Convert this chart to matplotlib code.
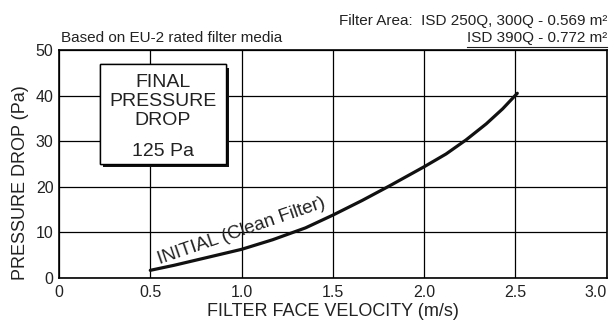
import numpy as np
import matplotlib
matplotlib.use("Agg")
import matplotlib.pyplot as plt
import matplotlib.patheffects as pe
from matplotlib.patches import Rectangle
from matplotlib.lines import Line2D

plt.rcParams['font.family'] = ['Liberation Sans', 'DejaVu Sans']

# curve
velocity = [0.5, 0.63, 0.81, 1.0, 1.17, 1.35, 1.5, 1.66, 1.81, 2.0, 2.12, 2.23, 2.34, 2.43, 2.51]
pressure = [1.7, 2.8, 4.5, 6.3, 8.4, 11.0, 13.8, 17.0, 20.2, 24.4, 27.2, 30.3, 33.8, 37.1, 40.5]

x_ticks = [0, 0.5, 1.0, 1.5, 2.0, 2.5, 3.0]
x_labels = ['0', '0.5', '1.0', '1.5', '2.0', '2.5', '3.0']
y_ticks = [0, 10, 20, 30, 40, 50]

box_lines = ['FINAL', 'PRESSURE', 'DROP', '125 Pa']
box_y = [42.8, 38.7, 34.6, 27.8]

fig = plt.figure(figsize=(6.1, 3.2), dpi=100)
ax = fig.add_axes([0.0967, 0.131, 0.898, 0.713])

ax.plot(velocity, pressure, color='#111111', lw=2.3, solid_capstyle='round',
        solid_joinstyle='round')

ax.set_xlim(0, 3.0)
ax.set_ylim(0, 50)
ax.set_xticks(x_ticks)
ax.set_xticklabels(x_labels)
ax.set_yticks(y_ticks)
ax.tick_params(length=0, labelsize=11.5, colors='#222222')
ax.tick_params(axis='x', pad=5)
ax.tick_params(axis='y', pad=4)
ax.get_xticklabels()[-1].set_horizontalalignment('right')
ax.grid(True, color='black', lw=0.9)
for s in ax.spines.values():
    s.set_linewidth(1.2)

ax.set_xlabel('FILTER FACE VELOCITY (m/s)', fontsize=13, color='#222222', labelpad=2)
ax.set_ylabel('PRESSURE DROP (Pa)', fontsize=13, color='#222222')
ax.yaxis.set_label_coords(-0.055, 0.417)

# boxed note with drop shadow
rect = Rectangle((0.224, 25.0), 0.69, 21.9, facecolor='white', edgecolor='black',
                 lw=1.0, zorder=4)
rect.set_path_effects([pe.withSimplePatchShadow(offset=(2.5, -2.5), shadow_rgbFace='#111111',
                                                alpha=1.0), pe.Normal()])
ax.add_patch(rect)
for txt, yy in zip(box_lines, box_y):
    ax.text(0.569, yy, txt, ha='center', va='center', fontsize=14, color='#222222', zorder=5)

ax.text(1.0, 10.2, 'INITIAL (Clean Filter)', rotation=19, ha='center', va='center',
        fontsize=13.5, color='#222222', rotation_mode='anchor')

fig.text(61 / 610, 1 - 38 / 320, 'Based on EU-2 rated filter media', ha='left', va='center',
         fontsize=11, color='#222222')
fig.text(607 / 610, 1 - 21 / 320, 'Filter Area:  ISD 250Q, 300Q - 0.569 m²', ha='right',
         va='center', fontsize=11, color='#222222')
fig.text(607 / 610, 1 - 38 / 320, 'ISD 390Q - 0.772 m²', ha='right', va='center',
         fontsize=11, color='#222222')
fig.add_artist(Line2D([467 / 610, 607 / 610], [1 - 46.5 / 320, 1 - 46.5 / 320],
                      color='#222222', lw=0.8))

fig.savefig('out.png', dpi=100)
